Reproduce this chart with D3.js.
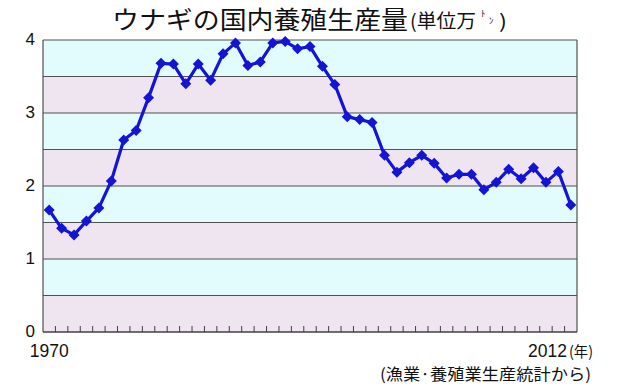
<!DOCTYPE html>
<html><head><meta charset="utf-8">
<script src="https://cdn.jsdelivr.net/npm/d3@7"></script>
<style>body{margin:0;background:#fff}svg{display:block}</style>
</head><body>
<svg id="c" width="620" height="390"></svg>
<script>
const years = d3.range(1970, 2013);
const production = [1.67,1.42,1.33,1.52,1.70,2.07,2.63,2.76,3.21,3.68,3.67,3.40,3.67,3.45,3.81,3.96,3.65,3.70,3.96,3.98,3.88,3.91,3.64,3.39,2.95,2.91,2.87,2.42,2.19,2.32,2.42,2.31,2.11,2.16,2.16,1.95,2.05,2.23,2.10,2.25,2.05,2.20,1.74];
const yTicks = [0,1,2,3,4];
const gridVals = [0.5,1,1.5,2,2.5,3,3.5,4];
const xLabels = ["1970","2012"];

const svg = d3.select("#c");
const L=43, R=577, T=40, B=332;
const x = d3.scaleBand().domain(years).range([L,R]).padding(0);
const y = d3.scaleLinear().domain([0,4]).range([B,T]);
const jp = "'Noto Sans CJK JP', sans-serif";
const lat = "'Liberation Sans', Arial, sans-serif";

// bands
const bands = d3.range(0,4,0.5);
svg.selectAll("rect.band").data(bands).join("rect")
  .attr("x",L).attr("width",R-L)
  .attr("y",d=>y(d+0.5)).attr("height",d=>y(d)-y(d+0.5))
  .attr("fill",d=>(Math.round(d*2)%2===0)?"#efe5f1":"#e2fcfd");

// grid lines
svg.selectAll("line.grid").data(gridVals).join("line")
  .attr("x1",L).attr("x2",R).attr("y1",d=>y(d)).attr("y2",d=>y(d))
  .attr("stroke","#505050").attr("stroke-width",1.2);

// borders
svg.append("line").attr("x1",L).attr("x2",L).attr("y1",T).attr("y2",B).attr("stroke","#505050").attr("stroke-width",1.2);
svg.append("line").attr("x1",R).attr("x2",R).attr("y1",T).attr("y2",B).attr("stroke","#505050").attr("stroke-width",1.2);
svg.append("line").attr("x1",L).attr("x2",R).attr("y1",B).attr("y2",B).attr("stroke","#404040").attr("stroke-width",1.4);

// x ticks (inward)
svg.selectAll("line.xt").data(years.slice(1)).join("line")
  .attr("x1",d=>x(d)).attr("x2",d=>x(d)).attr("y1",B).attr("y2",B-6)
  .attr("stroke","#404040").attr("stroke-width",1);

// y labels
svg.selectAll("text.yl").data(yTicks).join("text")
  .attr("x",35).attr("y",d=>y(d)+5).attr("text-anchor","end")
  .attr("font-family",lat).attr("font-size",17).attr("fill","#111").text(d=>d);

// x labels
svg.append("text").attr("x",x(1970)+x.bandwidth()/2).attr("y",357).attr("text-anchor","middle")
  .attr("font-family",lat).attr("font-size",17.5).attr("fill","#111").text(xLabels[0]);
svg.append("text").attr("x",567).attr("y",357).attr("text-anchor","end")
  .attr("font-family",lat).attr("font-size",17.5).attr("fill","#111").text(xLabels[1]);
svg.append("text").attr("x",569).attr("y",356.5)
  .attr("font-family",jp).attr("font-size",15).attr("fill","#111")
  .attr("textLength",24).attr("lengthAdjust","spacingAndGlyphs").text("(年)");

// source
svg.append("text").attr("x",380).attr("y",379.5)
  .attr("font-family",jp).attr("font-size",16).attr("fill","#111")
  .attr("textLength",211).attr("lengthAdjust","spacingAndGlyphs")
  .text("(漁業·養殖業生産統計から)");

// title
svg.append("text").attr("x",112).attr("y",28.5).attr("font-family",jp).attr("fill","#111")
  .attr("font-size",24.5).attr("textLength",296).attr("lengthAdjust","spacingAndGlyphs")
  .text("ウナギの国内養殖生産量");
svg.append("text").attr("x",410).attr("y",28).attr("font-family",jp).attr("fill","#111")
  .attr("font-size",19).attr("textLength",66).attr("lengthAdjust","spacingAndGlyphs")
  .text("(単位万");
svg.append("text").attr("x",481).attr("y",17).attr("font-family",jp).attr("fill","#111")
  .attr("font-size",9).text("ﾄ");
svg.append("text").attr("x",489).attr("y",24).attr("font-family",jp).attr("fill","#111")
  .attr("font-size",9).text("ﾝ");
svg.append("text").attr("x",499).attr("y",28).attr("font-family",jp).attr("fill","#111")
  .attr("font-size",19).attr("textLength",8).attr("lengthAdjust","spacingAndGlyphs").text(")");

// line
const cx = d=>x(d)+x.bandwidth()/2;
const data = years.map((yr,i)=>({yr,v:production[i]}));
svg.append("path").datum(data)
  .attr("d",d3.line().x(d=>cx(d.yr)).y(d=>y(d.v)))
  .attr("fill","none").attr("stroke","#1414d4").attr("stroke-width",3.2).attr("stroke-linejoin","round");
svg.selectAll("path.m").data(data).join("path")
  .attr("transform",d=>`translate(${cx(d.yr)},${y(d.v)})`)
  .attr("d","M0,-5.5L5.5,0L0,5.5L-5.5,0Z").attr("fill","#1414d4");
</script>
</body></html>
